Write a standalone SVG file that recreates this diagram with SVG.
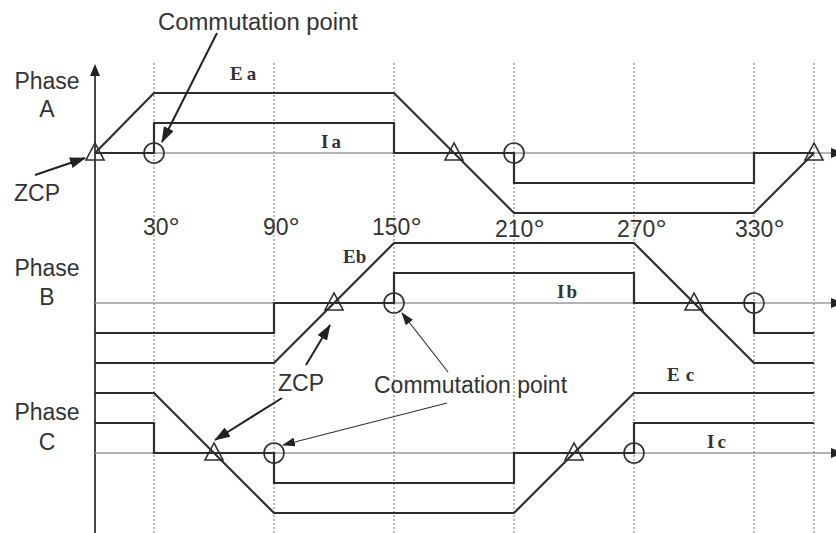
<svg xmlns="http://www.w3.org/2000/svg" width="836" height="533" viewBox="0 0 836 533">
<style>
.bg{fill:#fff}
.grid{stroke:#8a8a8a;stroke-width:1.2;stroke-dasharray:2 2;fill:none}
.zero{stroke:#9a9a9a;stroke-width:1.5;fill:none}
.axis{stroke:#333;stroke-width:1.8;fill:none}
.wave{stroke:#2e2e2e;stroke-width:2.2;fill:none;stroke-linejoin:miter}
.mark{stroke:#2e2e2e;stroke-width:1.6;fill:none}
.lbl{font-family:"Liberation Sans",Arial,sans-serif;font-size:23px;fill:#333}
.deg{font-size:28px}
.sig{font-family:"Liberation Serif","Times New Roman",serif;font-size:19px;font-weight:bold;fill:#333}
.arr{stroke:#222;stroke-width:2;fill:none}
.arrthin{stroke:#333;stroke-width:1.2;fill:none}
.head{fill:#222}
</style>
<defs>
<marker id="ah" markerUnits="userSpaceOnUse" markerWidth="16" markerHeight="11" refX="15" refY="5.5" orient="auto">
<path d="M0,0 L16,5.5 L0,11 z" class="head"/>
</marker>
<marker id="aht" markerUnits="userSpaceOnUse" markerWidth="13" markerHeight="9" refX="12" refY="4.5" orient="auto">
<path d="M0,0 L13,4.5 L0,9 z" class="head"/>
</marker>
</defs>
<rect class="bg" x="0" y="0" width="836" height="533"/>

<g id="grid">
<line class="grid" x1="154" y1="63" x2="154" y2="533"/>
<line class="grid" x1="274" y1="63" x2="274" y2="533"/>
<line class="grid" x1="394" y1="63" x2="394" y2="533"/>
<line class="grid" x1="514" y1="63" x2="514" y2="533"/>
<line class="grid" x1="634" y1="63" x2="634" y2="533"/>
<line class="grid" x1="754" y1="63" x2="754" y2="533"/>
<line class="grid" x1="814" y1="63" x2="814" y2="533"/>
</g>

<g id="axes">
<line class="axis" x1="95" y1="533" x2="95" y2="74"/>
<polygon class="head" points="95,64 90,76 100,76"/>
<line class="zero" x1="95" y1="153" x2="836" y2="153"/>
<line class="zero" x1="95" y1="303" x2="836" y2="303"/>
<line class="zero" x1="95" y1="453" x2="836" y2="453"/>
<polygon class="head" points="831,148 843,153 831,158"/>
<polygon class="head" points="831,298 843,303 831,308"/>
<polygon class="head" points="831,448 843,453 831,458"/>
</g>

<g id="phaseA">
<text class="lbl" x="47" y="89" text-anchor="middle">Phase</text>
<text class="lbl" x="47" y="117" text-anchor="middle">A</text>
<path class="wave" d="M95,153 L154,93 L394,93 L514,213 L754,213 L814,153"/>
<path class="wave" d="M95,153 L154,153 L154,123 L394,123 L394,153 L514,153 L514,183 L754,183 L754,153 L814,153"/>
<text class="sig" x="230" y="80" letter-spacing="4">Ea</text>
<text class="sig" x="321" y="148" letter-spacing="3">Ia</text>
<polygon class="mark" points="95,143 86,160 104,160"/>
<polygon class="mark" points="454,143 445,160 463,160"/>
<polygon class="mark" points="814,143 805,160 823,160"/>
<circle class="mark" cx="154" cy="153" r="10"/>
<circle class="mark" cx="514" cy="153" r="10"/>
</g>

<g id="phaseB">
<text class="lbl" x="47" y="276" text-anchor="middle">Phase</text>
<text class="lbl" x="47" y="305" text-anchor="middle">B</text>
<path class="wave" d="M95,363 L274,363 L394,243 L634,243 L754,363 L814,363"/>
<path class="wave" d="M95,333 L274,333 L274,303 L394,303 L394,273 L634,273 L634,303 L754,303 L754,333 L814,333"/>
<text class="sig" x="343" y="263">Eb</text>
<text class="sig" x="557" y="298" letter-spacing="2">Ib</text>
<polygon class="mark" points="334,293 325,310 343,310"/>
<polygon class="mark" points="694,293 685,310 703,310"/>
<circle class="mark" cx="394" cy="303" r="10"/>
<circle class="mark" cx="754" cy="303" r="10"/>
</g>

<g id="phaseC">
<text class="lbl" x="47" y="420" text-anchor="middle">Phase</text>
<text class="lbl" x="47" y="450" text-anchor="middle">C</text>
<path class="wave" d="M95,393 L154,393 L274,513 L514,513 L634,393 L814,393"/>
<path class="wave" d="M95,423 L154,423 L154,453 L274,453 L274,483 L514,483 L514,453 L634,453 L634,423 L814,423"/>
<text class="sig" x="667" y="381" letter-spacing="6">Ec</text>
<text class="sig" x="707" y="448" letter-spacing="3">Ic</text>
<polygon class="mark" points="214,443 205,460 223,460"/>
<polygon class="mark" points="574,443 565,460 583,460"/>
<circle class="mark" cx="274" cy="453" r="10"/>
<circle class="mark" cx="634" cy="453" r="10"/>
</g>

<g id="angles">
<text class="lbl" x="143" y="235">30<tspan class="deg" dy="2">°</tspan></text>
<text class="lbl" x="263" y="235">90<tspan class="deg" dy="2">°</tspan></text>
<text class="lbl" x="372" y="235">150<tspan class="deg" dy="2">°</tspan></text>
<text class="lbl" x="495" y="237">210<tspan class="deg" dy="2">°</tspan></text>
<text class="lbl" x="617" y="237">270<tspan class="deg" dy="2">°</tspan></text>
<text class="lbl" x="735" y="237">330<tspan class="deg" dy="2">°</tspan></text>
</g>

<g id="annotations">
<text class="lbl" x="158" y="30" textLength="200" lengthAdjust="spacingAndGlyphs">Commutation point</text>
<text class="lbl" x="14" y="201">ZCP</text>
<text class="lbl" x="278" y="391">ZCP</text>
<text class="lbl" x="374" y="393">Commutation point</text>
</g>

<g id="connectors">
<line class="arr" x1="35" y1="175" x2="85" y2="158" marker-end="url(#ah)"/>
<line class="arr" x1="217" y1="33" x2="162" y2="142" marker-end="url(#ah)"/>
<line class="arr" x1="306" y1="365" x2="330" y2="325" marker-end="url(#ah)"/>
<line class="arr" x1="282" y1="398" x2="215" y2="440" marker-end="url(#ah)"/>
<line class="arrthin" x1="448" y1="372" x2="402" y2="313" marker-end="url(#aht)"/>
<line class="arrthin" x1="447" y1="403" x2="283" y2="445" marker-end="url(#aht)"/>
</g>
</svg>
